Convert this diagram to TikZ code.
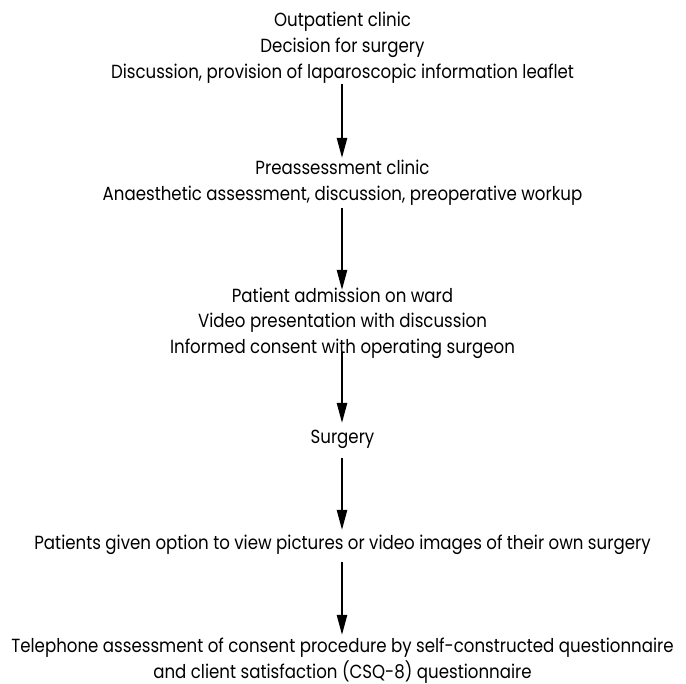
\documentclass[tikz,border=0pt]{standalone}
\usepackage{fontspec}
\setmainfont[FakeStretch=0.875]{Poppins}
\usetikzlibrary{arrows.meta}
\newcommand\tp{\rule{0pt}{20pt}}
\newcommand\bt{\rule[-8pt]{0pt}{8pt}}
\begin{document}
\begin{tikzpicture}[x=1pt,y=1pt,
  lbl/.style={align=center,font=\fontsize{19}{26}\selectfont,inner sep=0pt,anchor=north},
  flow/.style={line width=2.3pt,-{Triangle[length=20pt,width=10pt]}}]
\useasboundingbox (0,0) rectangle (686,684);
\node[lbl] (a) at (342.5,678) {\tp Outpatient clinic\\Decision for surgery\\Discussion, provision of laparoscopic information leaflet\bt};
\node[lbl] (b) at (342.5,530) {\tp Preassessment clinic\\Anaesthetic assessment, discussion, preoperative workup\bt};
\node[lbl,font=\fontsize{19}{25.5}\selectfont] (c) at (342.5,402) {\tp Patient admission on ward\\Video presentation with discussion\\Informed consent with operating surgeon\bt};
\node[lbl] (d) at (342.5,261) {\tp Surgery\bt};
\node[lbl] (e) at (342.5,155) {\tp Patients given option to view pictures or video images of their own surgery\bt};
\node[lbl] (f) at (342.5,52) {\tp Telephone assessment of consent procedure by self-constructed questionnaire\\and client satisfaction (CSQ-8) questionnaire\bt};
\draw[flow] ([xshift=-0.5pt,yshift=2pt]a.south) -- ([xshift=-0.5pt,yshift=-4pt]b.north);
\draw[flow] ([xshift=-0.5pt]b.south) -- ([xshift=-0.5pt,yshift=-8pt]c.north);
\draw[flow] ([xshift=-0.5pt,yshift=9pt]c.south) -- ([xshift=-0.5pt]d.north);
\draw[flow] ([xshift=-0.5pt,yshift=-7pt]d.south) -- ([xshift=-0.5pt,yshift=-1pt]e.north);
\draw[flow] ([xshift=-0.5pt,yshift=-5pt]e.south) -- ([xshift=-0.5pt,yshift=-3pt]f.north);
\end{tikzpicture}
\end{document}
